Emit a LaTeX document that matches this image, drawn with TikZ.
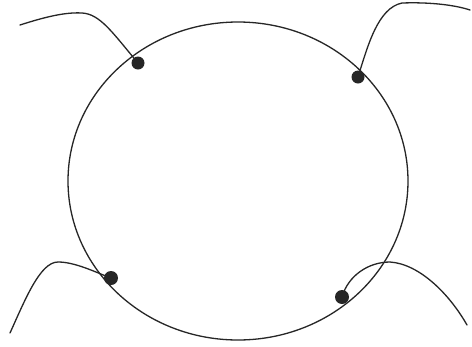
\documentclass[tikz,border=0pt]{standalone}
\begin{document}
\begin{tikzpicture}[x=1pt,y=-1pt,
  wire/.style={line width=1.3pt,draw=black!85,line cap=round},
  blob/.style={circle,fill=black!85,inner sep=0pt,minimum size=#1}]
\useasboundingbox[fill=white] (0,0) rectangle (472,346);
% big ring
\draw[wire] (238,181) ellipse [x radius=170, y radius=-159];
% dots
\node[blob=13pt] (tl) at (138,63) {};
\node[blob=13pt] (tr) at (358,77) {};
\node[blob=14pt] (bl) at (111,278) {};
\node[blob=14pt] (br) at (342,297) {};
% free ends
\coordinate (tlE) at (20,25);
\coordinate (trE) at (470,10);
\coordinate (blE) at (10,333);
\coordinate (brE) at (467,325);
% strands
\draw[wire] (tlE) .. controls (45,17) and (65,12) .. (82,13)
  .. controls (100,14) and (112,32) .. (tl.center);
\draw[wire] (tr.center) .. controls (368,45) and (378,8) .. (402,3)
  .. controls (430,2) and (455,5) .. (trE);
\draw[wire] (blE) .. controls (25,300) and (40,262) .. (58,262)
  .. controls (75,262) and (95,272) .. (bl.center);
\draw[wire] (br.center) .. controls (348,276) and (368,262) .. (390,262)
  .. controls (420,264) and (450,295) .. (brE);
\end{tikzpicture}
\end{document}
